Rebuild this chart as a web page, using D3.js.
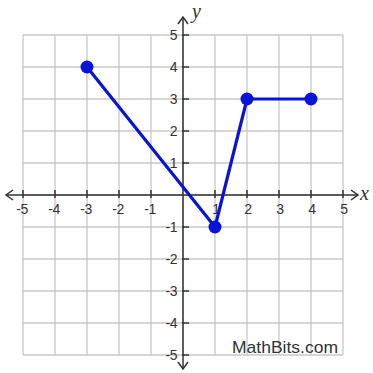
<!DOCTYPE html>
<html><head><meta charset="utf-8">
<script src="https://cdn.jsdelivr.net/npm/d3@7"></script>
<style>html,body{margin:0;padding:0;background:#fff;}svg{display:block;}</style>
</head><body>
<svg id="chart" width="373" height="373"></svg>
<script>
// Piecewise-linear graph vertices
const pointX = [-3, 1, 2, 4];
const pointY = [4, -1, 3, 3];
const xTicks = [-5, -4, -3, -2, -1, 1, 2, 3, 4, 5];
const yTicks = [-5, -4, -3, -2, -1, 1, 2, 3, 4, 5];
const gridValues = [-5, -4, -3, -2, -1, 0, 1, 2, 3, 4, 5];

const svg = d3.select("#chart");
const x = d3.scaleLinear().domain([-5, 5]).range([23, 343]);
const y = d3.scaleLinear().domain([-5, 5]).range([355, 35]);

// grid
const grid = svg.append("g").attr("stroke", "#c8c8c8").attr("stroke-width", 1.3);
gridValues.forEach(v => {
  grid.append("line").attr("x1", x(v)).attr("x2", x(v)).attr("y1", y(5)).attr("y2", y(-5));
  grid.append("line").attr("y1", y(v)).attr("y2", y(v)).attr("x1", x(-5)).attr("x2", x(5));
});

const axisColor = "#333";
// x axis with arrows at both ends
const ax = svg.append("g").attr("stroke", axisColor).attr("stroke-width", 1.5).attr("fill", "none");
ax.append("line").attr("x1", 6).attr("x2", 358).attr("y1", y(0)).attr("y2", y(0));
ax.append("path").attr("d", `M13,${y(0)-5} L6,${y(0)} L13,${y(0)+5}`);
ax.append("path").attr("d", `M351,${y(0)-5} L358,${y(0)} L351,${y(0)+5}`);
// y axis with arrows at both ends
ax.append("line").attr("x1", x(0)).attr("x2", x(0)).attr("y1", 17).attr("y2", 369);
ax.append("path").attr("d", `M${x(0)-5},24 L${x(0)},17 L${x(0)+5},24`);
ax.append("path").attr("d", `M${x(0)-5},362 L${x(0)},369 L${x(0)+5},362`);

// tick marks
xTicks.forEach(v => ax.append("line").attr("x1", x(v)).attr("x2", x(v)).attr("y1", y(0) - 5).attr("y2", y(0) + 3));
yTicks.forEach(v => ax.append("line").attr("y1", y(v)).attr("y2", y(v)).attr("x1", x(0) - 1).attr("x2", x(0) + 6));

// tick labels
const lab = svg.append("g").attr("font-family", "Liberation Sans, Arial, sans-serif")
  .attr("font-size", 14).attr("fill", "#333").attr("letter-spacing", -0.5);
xTicks.forEach(v => lab.append("text").attr("x", x(v) + (v < 0 ? -1 : 1)).attr("y", y(0) + 19)
  .attr("text-anchor", "middle").text(v));
yTicks.forEach(v => lab.append("text").attr("x", x(0) - 6).attr("y", y(v) + 5)
  .attr("text-anchor", "end").text(v));

// axis names
const nm = svg.append("g").attr("font-family", "Liberation Serif, Times New Roman, serif")
  .attr("font-style", "italic").attr("font-size", 20).attr("fill", "#333");
nm.append("text").attr("x", 360).attr("y", y(0) + 5).text("x");
nm.append("text").attr("x", x(0) + 9).attr("y", 18).text("y");

// graph
const data = pointX.map((d, i) => [d, pointY[i]]);
svg.append("path").datum(data)
  .attr("d", d3.line().x(d => x(d[0])).y(d => y(d[1])))
  .attr("fill", "none").attr("stroke", "#0a14d8").attr("stroke-width", 3.2)
  .attr("stroke-linejoin", "round");
svg.selectAll("circle.pt").data(data).enter()
  .append("circle").attr("class", "pt")
  .attr("cx", d => x(d[0])).attr("cy", d => y(d[1])).attr("r", 6.5)
  .attr("fill", "#0a14d8");

// credit
svg.append("text").attr("x", 338).attr("y", 353).attr("text-anchor", "end")
  .attr("font-family", "Liberation Sans, Arial, sans-serif").attr("font-size", 17)
  .attr("textLength", 106).attr("lengthAdjust", "spacingAndGlyphs")
  .attr("fill", "#333").text("MathBits.com");
</script>
</body></html>
